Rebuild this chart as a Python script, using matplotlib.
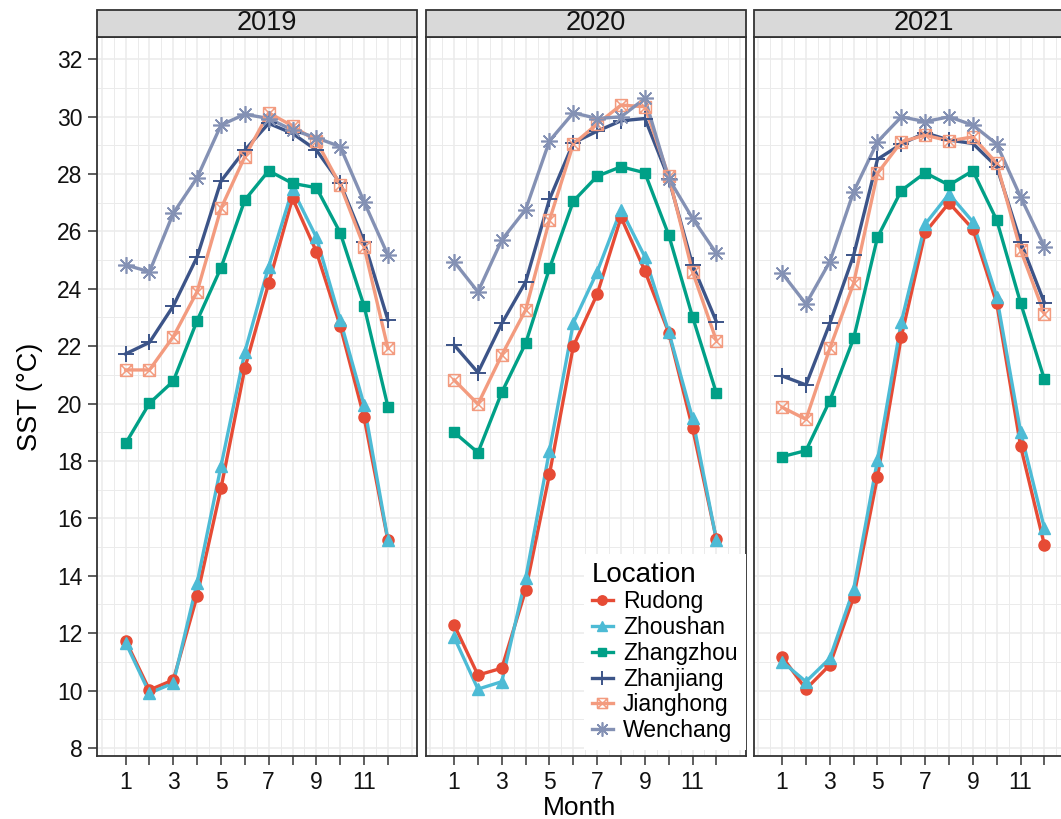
import numpy as np
import matplotlib.pyplot as plt
from matplotlib.path import Path
from matplotlib.patches import Rectangle
from matplotlib.lines import Line2D

plt.rcParams['font.family'] = ['Liberation Sans', 'DejaVu Sans']

# data
months = list(range(1, 13))
years = ['2019', '2020', '2021']
locations = ['Rudong', 'Zhoushan', 'Zhangzhou', 'Zhanjiang', 'Jianghong', 'Wenchang']

sst_rudong = {
    '2019': [11.74, 10.02, 10.37, 13.30, 17.05, 21.23, 24.19, 27.15, 25.29, 22.70, 19.52, 15.23],
    '2020': [12.29, 10.54, 10.78, 13.50, 17.54, 22.00, 23.81, 26.49, 24.62, 22.47, 19.14, 15.27],
    '2021': [11.18, 10.05, 10.89, 13.25, 17.45, 22.33, 25.96, 26.99, 26.08, 23.49, 18.52, 15.07],
}
sst_zhoushan = {
    '2019': [11.67, 9.91, 10.26, 13.76, 17.82, 21.80, 24.77, 27.46, 25.79, 22.91, 19.95, 15.25],
    '2020': [11.86, 10.05, 10.31, 13.91, 18.36, 22.81, 24.59, 26.76, 25.11, 22.50, 19.48, 15.25],
    '2021': [11.01, 10.31, 11.12, 13.53, 18.03, 22.85, 26.25, 27.30, 26.33, 23.72, 19.02, 15.65],
}
sst_zhangzhou = {
    '2019': [18.61, 20.01, 20.78, 22.89, 24.73, 27.09, 28.11, 27.67, 27.52, 25.95, 23.40, 19.89],
    '2020': [19.00, 18.29, 20.39, 22.10, 24.71, 27.05, 27.92, 28.25, 28.04, 25.87, 23.02, 20.36],
    '2021': [18.15, 18.36, 20.10, 22.27, 25.79, 27.42, 28.04, 27.61, 28.11, 26.39, 23.51, 20.84],
}
sst_zhanjiang = {
    '2019': [21.73, 22.13, 23.40, 25.11, 27.75, 28.83, 29.76, 29.41, 28.83, 27.67, 25.64, 22.91],
    '2020': [22.04, 21.08, 22.79, 24.24, 27.12, 29.08, 29.49, 29.85, 29.93, 27.84, 24.83, 22.85],
    '2021': [20.96, 20.65, 22.79, 25.17, 28.51, 29.04, 29.43, 29.18, 29.06, 28.25, 25.64, 23.51],
}
sst_jianghong = {
    '2019': [21.17, 21.17, 22.33, 23.90, 26.80, 28.60, 30.13, 29.67, 29.15, 27.61, 25.46, 21.92],
    '2020': [20.82, 19.98, 21.69, 23.26, 26.39, 29.04, 29.74, 30.40, 30.34, 27.92, 24.59, 22.19],
    '2021': [19.87, 19.45, 21.92, 24.19, 28.02, 29.12, 29.35, 29.15, 29.29, 28.37, 25.35, 23.12],
}
sst_wenchang = {
    '2019': [24.83, 24.59, 26.63, 27.87, 29.70, 30.08, 29.93, 29.53, 29.26, 28.95, 27.03, 25.17],
    '2020': [24.94, 23.89, 25.70, 26.76, 29.15, 30.13, 29.93, 29.99, 30.63, 27.84, 26.45, 25.23],
    '2021': [24.54, 23.47, 24.94, 27.38, 29.12, 29.99, 29.82, 29.99, 29.70, 29.04, 27.20, 25.46],
}
series = [sst_rudong, sst_zhoushan, sst_zhangzhou, sst_zhanjiang, sst_jianghong, sst_wenchang]

# styles (npg palette)
colors = ['#E64B35', '#4DBBD5', '#00A087', '#3C5488', '#F39B7F', '#8491B4']
boxx = Path([(-1, -1), (1, -1), (1, 1), (-1, 1), (-1, -1), (-1, -1), (1, 1), (-1, 1), (1, -1)],
            [Path.MOVETO, Path.LINETO, Path.LINETO, Path.LINETO, Path.LINETO,
             Path.MOVETO, Path.LINETO, Path.MOVETO, Path.LINETO])
markers = ['o', '^', 's', '+', boxx, (8, 2, 0)]
msizes = [8, 9, 7.5, 12, 8.5, 12]
mfcs = [None, None, None, None, 'none', None]
mews = [1, 1, 1, 1.4, 1.1, 1.2]

W, H = 1061, 819
fig = plt.figure(figsize=(W / 100, H / 100), dpi=100)
lefts = [97, 425.5, 753.5]
pw = 320
top, bot = 37, 756
axes = []
for i, yr in enumerate(years):
    ax = fig.add_axes([lefts[i] / W, 1 - bot / H, pw / W, (bot - top) / H])
    axes.append(ax)
    ax.set_xlim(-0.2, 13.22)
    ax.set_ylim(7.72, 32.77)
    for g in np.arange(0, 13.01, 0.5):
        ax.axvline(g, color='#EBEBEB', lw=1.1 if g % 1 == 0 else 0.7, zorder=0)
    for g in np.arange(8, 32.01, 1):
        ax.axhline(g, color='#EBEBEB', lw=1.1 if g % 2 == 0 else 0.7, zorder=0)
    for j, s in enumerate(series):
        ax.plot(months, s[yr], color=colors[j], lw=2.4, zorder=2 + j * 0.01)
    for j, s in enumerate(series):
        ax.plot(months, s[yr], ls='none', marker=markers[j], ms=msizes[j],
                color=colors[j], mfc=mfcs[j] if mfcs[j] else colors[j],
                mew=mews[j], zorder=3 + j * 0.01)
    ax.set_xticks(months)
    ax.set_xticklabels([str(m) if m % 2 == 1 else '' for m in months])
    ax.set_yticks(np.arange(8, 33, 2))
    ax.tick_params(axis='both', length=6.5, width=1.1, color='#333333',
                   labelsize=16.5, labelcolor='#111111')
    ax.tick_params(axis='x', pad=4.5)
    ax.tick_params(axis='y', pad=4)
    if i > 0:
        ax.tick_params(axis='y', left=False, labelleft=False)
    for sp in ax.spines.values():
        sp.set_color('#333333')
        sp.set_linewidth(1.3)
    sh = 27 / (bot - top)
    ax.add_patch(Rectangle((0, 1), 1, sh, transform=ax.transAxes, clip_on=False,
                           fc='#D9D9D9', ec='#333333', lw=1.3, zorder=5))
    ax.text(0.5 + 10 / pw, 1 + sh / 2, yr, transform=ax.transAxes, ha='center',
            va='center', fontsize=19.5, color='#111111', zorder=6)

axes[0].set_ylabel('SST (°C)', fontsize=19.5, labelpad=10)
fig.text(580 / W, 1 - 808 / H, 'Month', ha='center', va='center', fontsize=19)

handles = []
for j, name in enumerate(locations):
    handles.append(Line2D([], [], color=colors[j], lw=2.4, marker=markers[j],
                          ms=msizes[j] * 0.85, mfc=mfcs[j] if mfcs[j] else colors[j],
                          mew=mews[j], label=name))
leg = axes[1].legend(handles=handles, title='Location', loc='lower right',
                     bbox_to_anchor=(1, 0.008), borderaxespad=0, fontsize=16.5,
                     title_fontsize=20, frameon=True, fancybox=False, framealpha=1,
                     facecolor='white', edgecolor='none', handlelength=0.9,
                     handletextpad=0.45, labelspacing=0.12, borderpad=0.35,
                     alignment='left')
leg.set_zorder(10)

fig.savefig('out.png', dpi=100)
